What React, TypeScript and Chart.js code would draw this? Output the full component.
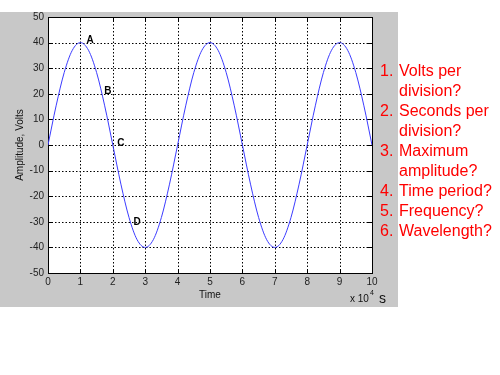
import React, { useEffect, useRef } from "react";
import { Chart, registerables } from "chart.js";

Chart.register(...registerables);

const timeValues: number[] = [
  0, 0.25, 0.5, 0.75, 1, 1.25, 1.5, 1.75, 2, 2.25, 2.5, 2.75, 3, 3.25, 3.5, 3.75, 4,
  4.25, 4.5, 4.75, 5, 5.25, 5.5, 5.75, 6, 6.25, 6.5, 6.75, 7, 7.25, 7.5, 7.75, 8,
  8.25, 8.5, 8.75, 9, 9.25, 9.5, 9.75, 10,
];
const voltValues: number[] = [
  0, 15.3, 28.3, 37, 40, 37, 28.3, 15.3, 0, -15.3, -28.3, -37, -40, -37, -28.3, -15.3, 0,
  15.3, 28.3, 37, 40, 37, 28.3, 15.3, 0, -15.3, -28.3, -37, -40, -37, -28.3, -15.3, 0,
  15.3, 28.3, 37, 40, 37, 28.3, 15.3, 0,
];
const markerLabels: string[] = ["A", "B", "C", "D"];
const markerX: number[] = [1.3, 1.85, 2.25, 2.75];
const markerY: number[] = [41, 21, 0.5, -30];
const questions: string[] = [
  "1.|Volts per",
  "|division?",
  "2.|Seconds per",
  "|division?",
  "3.|Maximum",
  "|amplitude?",
  "4.|Time period?",
  "5.|Frequency?",
  "6.|Wavelength?",
];

const FONT = "'Liberation Sans', Arial, sans-serif";

const decorPlugin = {
  id: "decor",
  beforeDraw(chart: any) {
    const ctx = chart.ctx;
    ctx.save();
    ctx.fillStyle = "#ffffff";
    ctx.fillRect(0, 0, chart.width, chart.height);
    ctx.fillStyle = "#c8c8c8";
    ctx.fillRect(0, 12, 398, 295);
    const a = chart.chartArea;
    ctx.fillStyle = "#ffffff";
    ctx.fillRect(a.left, a.top, a.right - a.left, a.bottom - a.top);
    ctx.restore();
  },
  beforeDatasetsDraw(chart: any) {
    const ctx = chart.ctx;
    const a = chart.chartArea;
    const xs = chart.scales.x;
    const ys = chart.scales.y;
    ctx.save();
    ctx.strokeStyle = "#000000";
    ctx.lineWidth = 1;
    ctx.setLineDash([1.5, 2]);
    for (let v = 1; v < 10; v++) {
      const px = Math.round(xs.getPixelForValue(v)) + 0.5;
      ctx.beginPath();
      ctx.moveTo(px, a.top);
      ctx.lineTo(px, a.bottom);
      ctx.stroke();
    }
    for (let v = -40; v <= 40; v += 10) {
      const py = Math.round(ys.getPixelForValue(v)) + 0.5;
      ctx.beginPath();
      ctx.moveTo(a.left, py);
      ctx.lineTo(a.right, py);
      ctx.stroke();
    }
    ctx.setLineDash([]);
    for (let v = 0; v <= 10; v++) {
      const px = Math.round(xs.getPixelForValue(v)) + 0.5;
      ctx.beginPath();
      ctx.moveTo(px, a.bottom);
      ctx.lineTo(px, a.bottom - 4);
      ctx.moveTo(px, a.top);
      ctx.lineTo(px, a.top + 4);
      ctx.stroke();
    }
    for (let v = -50; v <= 50; v += 10) {
      const py = Math.round(ys.getPixelForValue(v)) + 0.5;
      ctx.beginPath();
      ctx.moveTo(a.left, py);
      ctx.lineTo(a.left + 4, py);
      ctx.moveTo(a.right, py);
      ctx.lineTo(a.right - 4, py);
      ctx.stroke();
    }
    ctx.strokeRect(Math.round(a.left) + 0.5, Math.round(a.top) + 0.5, Math.round(a.right - a.left), Math.round(a.bottom - a.top));
    ctx.restore();
  },
  afterDraw(chart: any) {
    const ctx = chart.ctx;
    const a = chart.chartArea;
    const xs = chart.scales.x;
    const ys = chart.scales.y;
    ctx.save();
    ctx.fillStyle = "#000000";
    ctx.font = `bold 10px ${FONT}`;
    ctx.textAlign = "center";
    ctx.textBaseline = "middle";
    markerLabels.forEach((t, i) => {
      ctx.fillText(t, xs.getPixelForValue(markerX[i]), ys.getPixelForValue(markerY[i]));
    });
    ctx.font = `10px ${FONT}`;
    ctx.fillStyle = "#111111";
    ctx.fillText("Time", (a.left + a.right) / 2, 295);
    ctx.save();
    ctx.translate(20, (a.top + a.bottom) / 2);
    ctx.rotate(-Math.PI / 2);
    ctx.fillText("Amplitude, Volts", 0, 0);
    ctx.restore();
    ctx.textAlign = "left";
    ctx.textBaseline = "alphabetic";
    ctx.fillText("x 10", 350, 302);
    ctx.font = `7px ${FONT}`;
    ctx.fillText("4", 370, 295);
    ctx.font = `14px ${FONT}`;
    ctx.fillText("s", 379, 303);
    ctx.fillStyle = "#ff0000";
    ctx.font = `16px ${FONT}`;
    ctx.textBaseline = "middle";
    questions.forEach((q, i) => {
      const [num, text] = q.split("|");
      const y = 72 + i * 19.9;
      if (num) ctx.fillText(num, 380, y);
      ctx.fillText(text, 399, y);
    });
    ctx.restore();
  },
};

export default function App() {
  const ref = useRef<HTMLCanvasElement>(null);
  useEffect(() => {
    const chart = new Chart(ref.current!, {
      type: "line",
      data: {
        datasets: [
          {
            data: timeValues.map((t, i) => ({ x: t, y: voltValues[i] })),
            borderColor: "#3c3cff",
            borderWidth: 1,
            pointRadius: 0,
            cubicInterpolationMode: "monotone",
            fill: false,
          },
        ],
      },
      options: {
        animation: false,
        responsive: false,
        layout: { padding: { top: 17, right: 128, bottom: 82, left: 0 } },
        plugins: { legend: { display: false }, tooltip: { enabled: false } },
        scales: {
          x: {
            type: "linear",
            min: 0,
            max: 10,
            grid: { display: false, drawTicks: false, tickLength: 0 },
            border: { display: false },
            ticks: { stepSize: 1, color: "#222", font: { size: 10, family: FONT }, padding: 3, maxRotation: 0 },
            afterFit: (s: any) => { s.height = 20; },
          },
          y: {
            min: -50,
            max: 50,
            grid: { display: false, drawTicks: false, tickLength: 0 },
            border: { display: false },
            ticks: { stepSize: 10, color: "#222", font: { size: 10, family: FONT }, padding: 4 },
            afterFit: (s: any) => { s.width = 48; },
          },
        },
      },
      plugins: [decorPlugin],
    } as any);
    return () => chart.destroy();
  }, []);
  return (
    <div style={{ position: "fixed", left: 0, top: 0, width: 500, height: 375 }}>
      <canvas ref={ref} width={500} height={375} style={{ width: 500, height: 375 }} />
    </div>
  );
}
